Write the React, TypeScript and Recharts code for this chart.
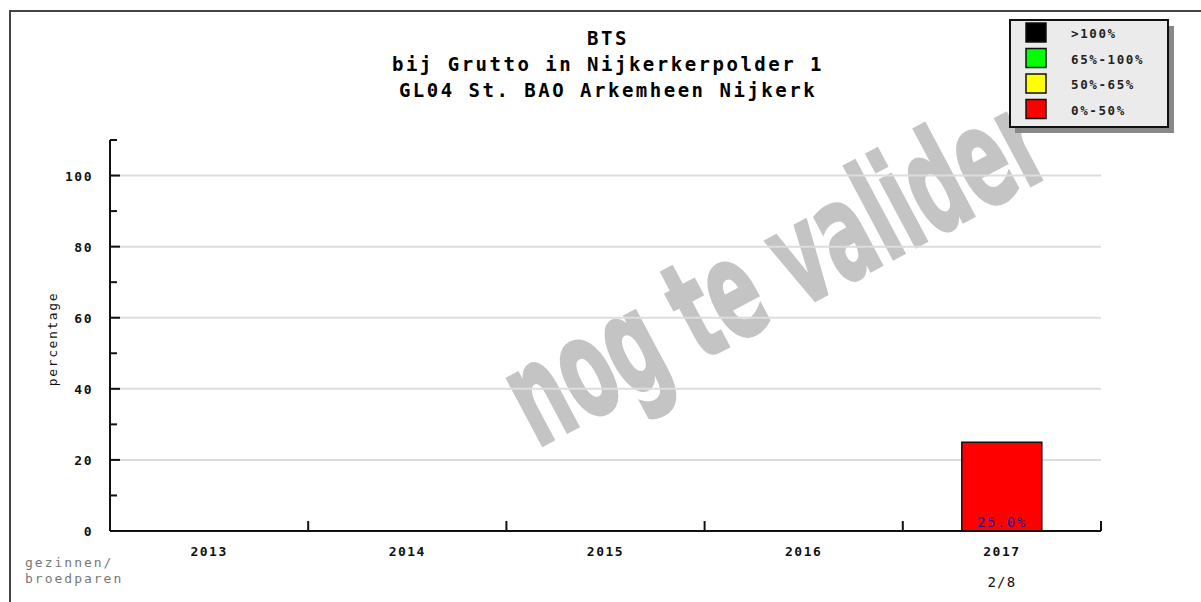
import React from 'react';
import { BarChart, Bar, XAxis, YAxis, CartesianGrid, Cell, LabelList, Customized } from 'recharts';

const years = ['2013', '2014', '2015', '2016', '2017'];
const percentages: (number | null)[] = [null, null, null, null, 25];
const counts = ['', '', '', '', '2/8'];
const yTicks = [0, 10, 20, 30, 40, 50, 60, 70, 80, 90, 100, 110];
const yLabeled = [0, 20, 40, 60, 80, 100];
const gridValues = [20, 40, 60, 80, 100];
const legendLabels = ['>100%', '65%-100%', '50%-65%', '0%-50%'];
const legendColors = ['#000000', '#00ff00', '#ffff00', '#ff0000'];
const titleLines = ['BTS', 'bij Grutto in Nijkerkerpolder 1', 'GL04 St. BAO Arkemheen Nijkerk'];
const watermark = 'nog te valider';

const data = years.map((y, i) => ({ year: y, pct: percentages[i], count: counts[i] }));

const W = 1201;
const H = 602;
const MARGIN = { top: 140, right: 100, bottom: 11, left: 10 };
const Y_AXIS_W = 100;
const X_AXIS_H = 60;
const PLOT_W = W - MARGIN.left - Y_AXIS_W - MARGIN.right;
const BAND = PLOT_W / years.length;
const MONO = '"DejaVu Sans Mono", monospace';

const colorFor = (v: number) => (v > 100 ? legendColors[0] : v >= 65 ? legendColors[1] : v >= 50 ? legendColors[2] : legendColors[3]);

const YTick = (props: any) => {
  const { x, y, payload } = props;
  const major = yLabeled.includes(payload.value);
  return (
    <g>
      <line x1={x} x2={x + (major ? 10 : 7)} y1={y} y2={y} stroke="#111" strokeWidth={2} />
      {major && (
        <text x={x - 17} y={y + 5} textAnchor="end" fontFamily={MONO} fontWeight="bold" fontSize={13} letterSpacing={1.5} fill="#111">
          {payload.value}
        </text>
      )}
    </g>
  );
};

const XTick = (props: any) => {
  const { x, y, payload, index } = props;
  const bx = x + BAND / 2;
  return (
    <g>
      <line x1={bx} x2={bx} y1={y} y2={y - 10} stroke="#111" strokeWidth={2} />
      <text x={x} y={y + 25} textAnchor="middle" fontFamily={MONO} fontWeight="bold" fontSize={13} letterSpacing={1.5} fill="#111">
        {payload.value}
      </text>
      {counts[index] && (
        <text x={x} y={y + 56} textAnchor="middle" fontFamily={MONO} fontSize={14} letterSpacing={1.2} fill="#111">
          {counts[index]}
        </text>
      )}
    </g>
  );
};

const BarLabel = (props: any) => {
  const { x, y, width, height, value } = props;
  if (value == null) return null;
  return (
    <text x={x + width / 2} y={y + height - 4} textAnchor="middle" fontFamily={MONO} fontSize={14} letterSpacing={1.5} fill="#1c1c90">
      {Number(value).toFixed(1) + '%'}
    </text>
  );
};

const Decorations = () => (
  <g>
    {titleLines.map((t, i) => (
      <text key={t} x={608} y={45 + i * 26} textAnchor="middle" fontFamily={MONO} fontWeight="bold" fontSize={19} letterSpacing={2.5} fill="#000">
        {t}
      </text>
    ))}
    <text transform="translate(57,339) rotate(-90)" textAnchor="middle" fontFamily={MONO} fontSize={13} letterSpacing={1.6} fill="#111">
      percentage
    </text>
    <text x={25} y={567} fontFamily={MONO} fontSize={13} letterSpacing={2} fill="#777">gezinnen/</text>
    <text x={25} y={583} fontFamily={MONO} fontSize={13} letterSpacing={2} fill="#777">broedparen</text>
    <g>
      <rect x={1015} y={26} width={159} height={107} fill="#888" />
      <rect x={1010} y={20} width={158} height={107} fill="#ebebeb" stroke="#111" strokeWidth={2} />
      {legendLabels.map((l, i) => (
        <g key={l}>
          <rect x={1026} y={23 + i * 25.5} width={20} height={19} fill={legendColors[i]} stroke="#111" strokeWidth={1.5} />
          <text x={1071} y={38 + i * 25.5} fontFamily={MONO} fontWeight="bold" fontSize={12.5} letterSpacing={1.6} fill="#222">
            {l}
          </text>
        </g>
      ))}
    </g>
  </g>
);

export default function App() {
  return (
    <div style={{ position: 'absolute', left: 0, top: 0, width: W, height: H, background: '#fff' }}>
      <svg width={W} height={H} style={{ position: 'absolute', left: 0, top: 0 }}>
        <path d={`M10,${H} L10,11 L${W},11`} fill="none" stroke="#444" strokeWidth={2} />
        <text
          transform="translate(775,268) rotate(-28)"
          textAnchor="middle"
          dominantBaseline="central"
          fontFamily='"DejaVu Sans", sans-serif'
          fontWeight="bold"
          fontSize={138}
          textLength={590}
          lengthAdjust="spacingAndGlyphs"
          fill="#c4c4c4"
          stroke="#c4c4c4"
          strokeWidth={3}
        >
          {watermark}
        </text>
      </svg>
      <div style={{ position: 'absolute', left: 0, top: 0 }}>
        <BarChart width={W} height={H} data={data} margin={MARGIN} barCategoryGap={0}>
          <CartesianGrid vertical={false} horizontalValues={gridValues} stroke="#dddddd" strokeWidth={2} />
          <Customized component={Decorations} />
          <XAxis
            dataKey="year"
            height={X_AXIS_H}
            axisLine={{ stroke: '#111', strokeWidth: 2 }}
            tickLine={false}
            tickSize={0}
            tickMargin={0}
            tick={<XTick />}
            interval={0}
          />
          <YAxis
            width={Y_AXIS_W}
            domain={[0, 110]}
            ticks={yTicks}
            interval={0}
            allowDataOverflow
            axisLine={{ stroke: '#111', strokeWidth: 2 }}
            tickLine={false}
            tickSize={0}
            tickMargin={0}
            tick={<YTick />}
          />
          <Bar dataKey="pct" barSize={80} stroke="#111" strokeWidth={1.5} isAnimationActive={false}>
            {data.map((d) => (
              <Cell key={d.year} fill={d.pct == null ? 'none' : colorFor(d.pct)} />
            ))}
            <LabelList dataKey="pct" content={<BarLabel />} />
          </Bar>
        </BarChart>
      </div>
    </div>
  );
}
